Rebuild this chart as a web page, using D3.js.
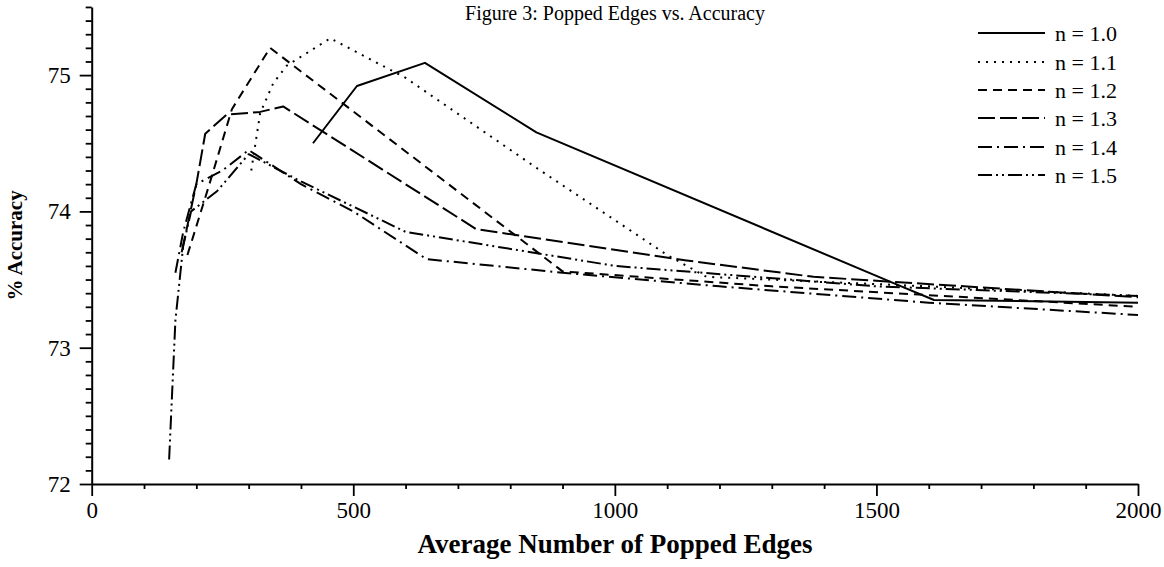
<!DOCTYPE html>
<html>
<head>
<meta charset="utf-8">
<script src="https://cdn.jsdelivr.net/npm/d3@7"></script>
<style>
  html, body { margin: 0; padding: 0; background: #fff; }
  svg { display: block; }
  text { font-family: "Liberation Serif", "Times New Roman", serif; fill: #000; }
</style>
</head>
<body>
<svg id="chart" width="1164" height="567"></svg>
<script>
// ---- data ----
const seriesNames = ["n = 1.0", "n = 1.1", "n = 1.2", "n = 1.3", "n = 1.4", "n = 1.5"];

const n10x = [423, 507, 637, 850, 1535, 1610, 2000];
const n10y = [74.50, 74.92, 75.09, 74.58, 73.47, 73.35, 73.33];

const n11x = [305, 322, 347, 373, 456, 600, 850, 1100, 1175, 1600, 2000];
const n11y = [74.30, 74.72, 74.94, 75.07, 75.27, 74.98, 74.32, 73.68, 73.52, 73.45, 73.38];

const n12x = [183, 225, 268, 341, 900, 1300, 2000];
const n12y = [73.68, 74.20, 74.75, 75.20, 73.56, 73.45, 73.30];

const n13x = [172, 200, 217, 258, 322, 366, 735, 1137, 1380, 2000];
const n13y = [73.70, 74.20, 74.57, 74.71, 74.73, 74.77, 73.87, 73.64, 73.52, 73.37];

const n14x = [160, 175, 200, 250, 300, 400, 500, 640, 900, 1200, 1600, 2000];
const n14y = [73.55, 73.85, 74.20, 74.30, 74.45, 74.20, 74.00, 73.65, 73.55, 73.45, 73.33, 73.24];

const n15x = [148, 160, 175, 190, 240, 300, 400, 600, 1000, 1500, 2000];
const n15y = [72.18, 73.20, 73.75, 74.00, 74.15, 74.42, 74.22, 73.85, 73.60, 73.45, 73.38];

const xTicks = [0, 500, 1000, 1500, 2000];
const yTicks = [72, 73, 74, 75];

const titleText = "Figure 3: Popped Edges vs. Accuracy";
const xLabel = "Average Number of Popped Edges";
const yLabel = "% Accuracy";

// ---- drawing ----
const series = [
  {name: seriesNames[0], xs: n10x, ys: n10y, dash: null},
  {name: seriesNames[1], xs: n11x, ys: n11y, dash: "2,6"},
  {name: seriesNames[2], xs: n12x, ys: n12y, dash: "9,6"},
  {name: seriesNames[3], xs: n13x, ys: n13y, dash: "17,5"},
  {name: seriesNames[4], xs: n14x, ys: n14y, dash: "14,5,2,5"},
  {name: seriesNames[5], xs: n15x, ys: n15y, dash: "14,4,2,4,2,4"}
];

const svg = d3.select("#chart");
const x = d3.scaleLinear().domain([0, 2000]).range([91.7, 1138]);
const y = d3.scaleLinear().domain([72, 75.5]).range([484, 484 - 3.5 * 136.3]);

// title (right at the top edge, as in the reference)
svg.append("text").attr("x", 615).attr("y", 20)
  .attr("text-anchor", "middle").style("font-size", "20px").text(titleText);

// minor ticks
const xMinor = d3.range(0, 2001, 100).filter(v => !xTicks.includes(v));
const yMinor = d3.range(0, 36).map(i => +(72 + i * 0.1).toFixed(1)).filter(v => !yTicks.includes(v));

const gx = svg.append("g").attr("transform", `translate(0,${y(72)})`)
  .call(d3.axisBottom(x).tickValues(xTicks).tickSize(12).tickSizeOuter(0).tickPadding(6).tickFormat(d3.format("d")));
gx.append("g").call(d3.axisBottom(x).tickValues(xMinor).tickSize(5).tickFormat(""))
  .select(".domain").remove();

const gy = svg.append("g").attr("transform", `translate(${x(0)},0)`)
  .call(d3.axisLeft(y).tickValues(yTicks).tickSize(12).tickSizeOuter(0).tickPadding(9).tickFormat(d3.format("d")));
gy.append("g").call(d3.axisLeft(y).tickValues(yMinor).tickSize(6).tickFormat(""))
  .select(".domain").remove();

svg.selectAll(".domain").attr("stroke", "#000").attr("stroke-width", 2);
svg.selectAll(".tick line").attr("stroke", "#000").attr("stroke-width", 1.8);
svg.selectAll(".tick text").style("font-size", "23px").style("font-family", "'Liberation Serif', serif");

// axis labels
svg.append("text").attr("x", 615).attr("y", 553)
  .attr("text-anchor", "middle").style("font-size", "27px").style("font-weight", "bold").text(xLabel);
svg.append("text").attr("transform", `translate(22,${y(73.75)}) rotate(-90)`)
  .attr("text-anchor", "middle").style("font-size", "21px").style("font-weight", "bold").text(yLabel);

// lines
const line = d3.line().x(d => x(d[0])).y(d => y(d[1]));
series.forEach(s => {
  const pts = s.xs.map((v, i) => [v, s.ys[i]]);
  svg.append("path").datum(pts).attr("d", line)
    .attr("fill", "none").attr("stroke", "#000").attr("stroke-width", 2)
    .attr("stroke-dasharray", s.dash).attr("stroke-linejoin", "round");
});

// legend
const legY = [33, 62, 90, 118, 147, 175];
series.forEach((s, i) => {
  svg.append("line").attr("x1", 978).attr("x2", 1045).attr("y1", legY[i]).attr("y2", legY[i])
    .attr("stroke", "#000").attr("stroke-width", 2).attr("stroke-dasharray", s.dash);
  svg.append("text").attr("x", 1055).attr("y", legY[i] + 8).style("font-size", "22px").text(s.name);
});
</script>
</body>
</html>
